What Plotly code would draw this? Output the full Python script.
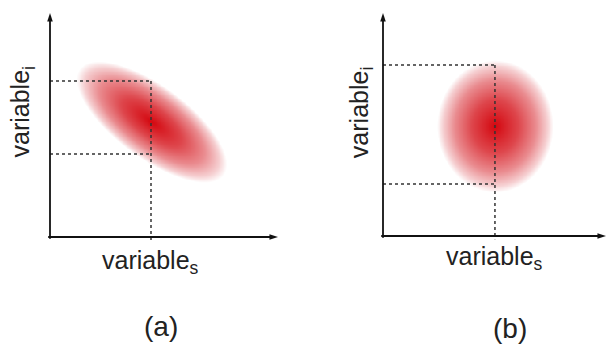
import numpy as np
import plotly.graph_objects as go

# ---------------- data (in axis units, 0..10) ----------------
panels = ["(a)", "(b)"]
x_label = "variable<sub>s</sub>"
y_label = "variable<sub>i</sub>"

# panel (a): correlated gaussian
a_center = [4.45, 5.15]        # mean of variable_s, variable_i
a_semi_axes = [3.95, 1.6]      # major, minor half-lengths
a_angle_deg = -37.0            # orientation of major axis
a_vline_x = 4.43
a_hlines_y = [6.96, 3.71]

# panel (b): independent gaussian
b_center = [5.02, 4.93]
b_semi_axes = [2.6, 2.96]      # along s, along i
b_angle_deg = 0.0
b_vline_x = 5.02
b_hlines_y = [7.67, 2.33]

axis_max = 10.0

W, H = 606, 345

# pixel anchors of each panel's origin and units (layout only)
frames = {
    "a": dict(ox=50, oy=237, ux=22.8, uy=22.4, xr=[-0.5, 10.5], yr=[-0.5, 10.5]),
    "b": dict(ox=383, oy=236, ux=22.3, uy=22.3, xr=[-0.5, 10.0], yr=[-0.5, 10.5]),
}

def domains(f):
    x0 = (f["ox"] + f["xr"][0] * f["ux"]) / W
    x1 = (f["ox"] + f["xr"][1] * f["ux"]) / W
    ybot = f["oy"] - f["yr"][0] * f["uy"]
    ytop = f["oy"] - f["yr"][1] * f["uy"]
    return [max(0, x0), min(1, x1)], [max(0, 1 - ybot / H), min(1, 1 - ytop / H)]

def to_paper(f, x, y):
    return (f["ox"] + x * f["ux"]) / W, 1 - (f["oy"] - y * f["uy"]) / H

def blob(center, semi, ang_deg):
    gx = np.linspace(-0.3, 10.3, 300)
    gy = np.linspace(-0.3, 10.3, 300)
    X, Y = np.meshgrid(gx, gy)
    t = np.deg2rad(ang_deg)
    dx, dy = X - center[0], Y - center[1]
    u = dx * np.cos(t) + dy * np.sin(t)
    v = -dx * np.sin(t) + dy * np.cos(t)
    r = np.sqrt((u / semi[0]) ** 2 + (v / semi[1]) ** 2)
    z = np.clip(1 - r, 0, 1)
    z = np.where(z > 0, z, np.nan)
    return gx, gy, z

colorscale = [
    [0.0, "rgb(255,255,255)"],
    [0.1, "rgb(246,208,210)"],
    [0.3, "rgb(234,140,144)"],
    [0.6, "rgb(222,70,76)"],
    [1.0, "rgb(212,8,16)"],
]

fig = go.Figure()
annotations = []
line_color = "#333333"
axis_color = "#111111"
font = dict(family="Liberation Sans, Arial, sans-serif", color="#222222")

specs = [
    ("a", "x", "y", a_center, a_semi_axes, a_angle_deg, a_vline_x, a_hlines_y, panels[0]),
    ("b", "x2", "y2", b_center, b_semi_axes, b_angle_deg, b_vline_x, b_hlines_y, panels[1]),
]

label_pos = {
    "a": dict(xl=(4.39, -1.12), yl=(-1.23, 5.6), pl=(4.87, -4.0)),
    "b": dict(xl=(5.02, -0.99), yl=(-0.99, 5.55), pl=(5.7, -4.15)),
}

for key, xa, ya, c, s, ang, vx, hys, ptxt in specs:
    f = frames[key]
    gx, gy, z = blob(c, s, ang)
    fig.add_trace(go.Heatmap(x=gx, y=gy, z=z, colorscale=colorscale, zmin=0, zmax=1,
                             zsmooth="best", showscale=False, hoverinfo="skip",
                             xaxis=xa, yaxis=ya))
    # dotted guide lines
    top = max(hys)
    fig.add_trace(go.Scatter(x=[vx, vx], y=[top, -0.15], mode="lines",
                             line=dict(color=line_color, width=1.5, dash="dot"),
                             hoverinfo="skip", showlegend=False, xaxis=xa, yaxis=ya))
    for hy in hys:
        fig.add_trace(go.Scatter(x=[0, vx], y=[hy, hy], mode="lines",
                                 line=dict(color=line_color, width=1.5, dash="dot"),
                                 hoverinfo="skip", showlegend=False, xaxis=xa, yaxis=ya))
    # axes lines
    fig.add_trace(go.Scatter(x=[-0.08, axis_max - 0.3], y=[0, 0], mode="lines",
                             line=dict(color=axis_color, width=1.8),
                             hoverinfo="skip", showlegend=False, xaxis=xa, yaxis=ya))
    fig.add_trace(go.Scatter(x=[0, 0], y=[-0.08, axis_max - 0.3], mode="lines",
                             line=dict(color=axis_color, width=1.8),
                             hoverinfo="skip", showlegend=False, xaxis=xa, yaxis=ya))
    # arrow heads (tip at marker position)
    fig.add_trace(go.Scatter(x=[axis_max, 0], y=[0, axis_max], mode="markers",
                             marker=dict(symbol="arrow", size=9, angle=[90, 0],
                                         color=axis_color, line=dict(width=0)),
                             cliponaxis=False,
                             hoverinfo="skip", showlegend=False, xaxis=xa, yaxis=ya))
    lp = label_pos[key]
    common = dict(xref="paper", yref="paper", showarrow=False,
                  xanchor="center", yanchor="middle")
    px, py = to_paper(f, *lp["xl"])
    annotations.append(dict(x=px, y=py, text=x_label, font=dict(size=25, **font), **common))
    px, py = to_paper(f, *lp["yl"])
    annotations.append(dict(x=px, y=py, text=y_label, textangle=-90,
                            font=dict(size=25, **font), **common))
    px, py = to_paper(f, *lp["pl"])
    annotations.append(dict(x=px, y=py, text=ptxt, font=dict(size=28, **font), **common))

dxa, dya = domains(frames["a"])
dxb, dyb = domains(frames["b"])
ax_common = dict(visible=False, fixedrange=True, showgrid=False, zeroline=False)

fig.update_layout(
    width=W, height=H,
    margin=dict(l=0, r=0, t=0, b=0),
    paper_bgcolor="white", plot_bgcolor="rgba(0,0,0,0)",
    showlegend=False,
    xaxis=dict(domain=dxa, range=frames["a"]["xr"], **ax_common),
    yaxis=dict(domain=dya, range=frames["a"]["yr"], **ax_common),
    xaxis2=dict(domain=dxb, range=frames["b"]["xr"], anchor="y2", **ax_common),
    yaxis2=dict(domain=dyb, range=frames["b"]["yr"], anchor="x2", **ax_common),
    annotations=annotations,
)

fig.write_html("out.html")
